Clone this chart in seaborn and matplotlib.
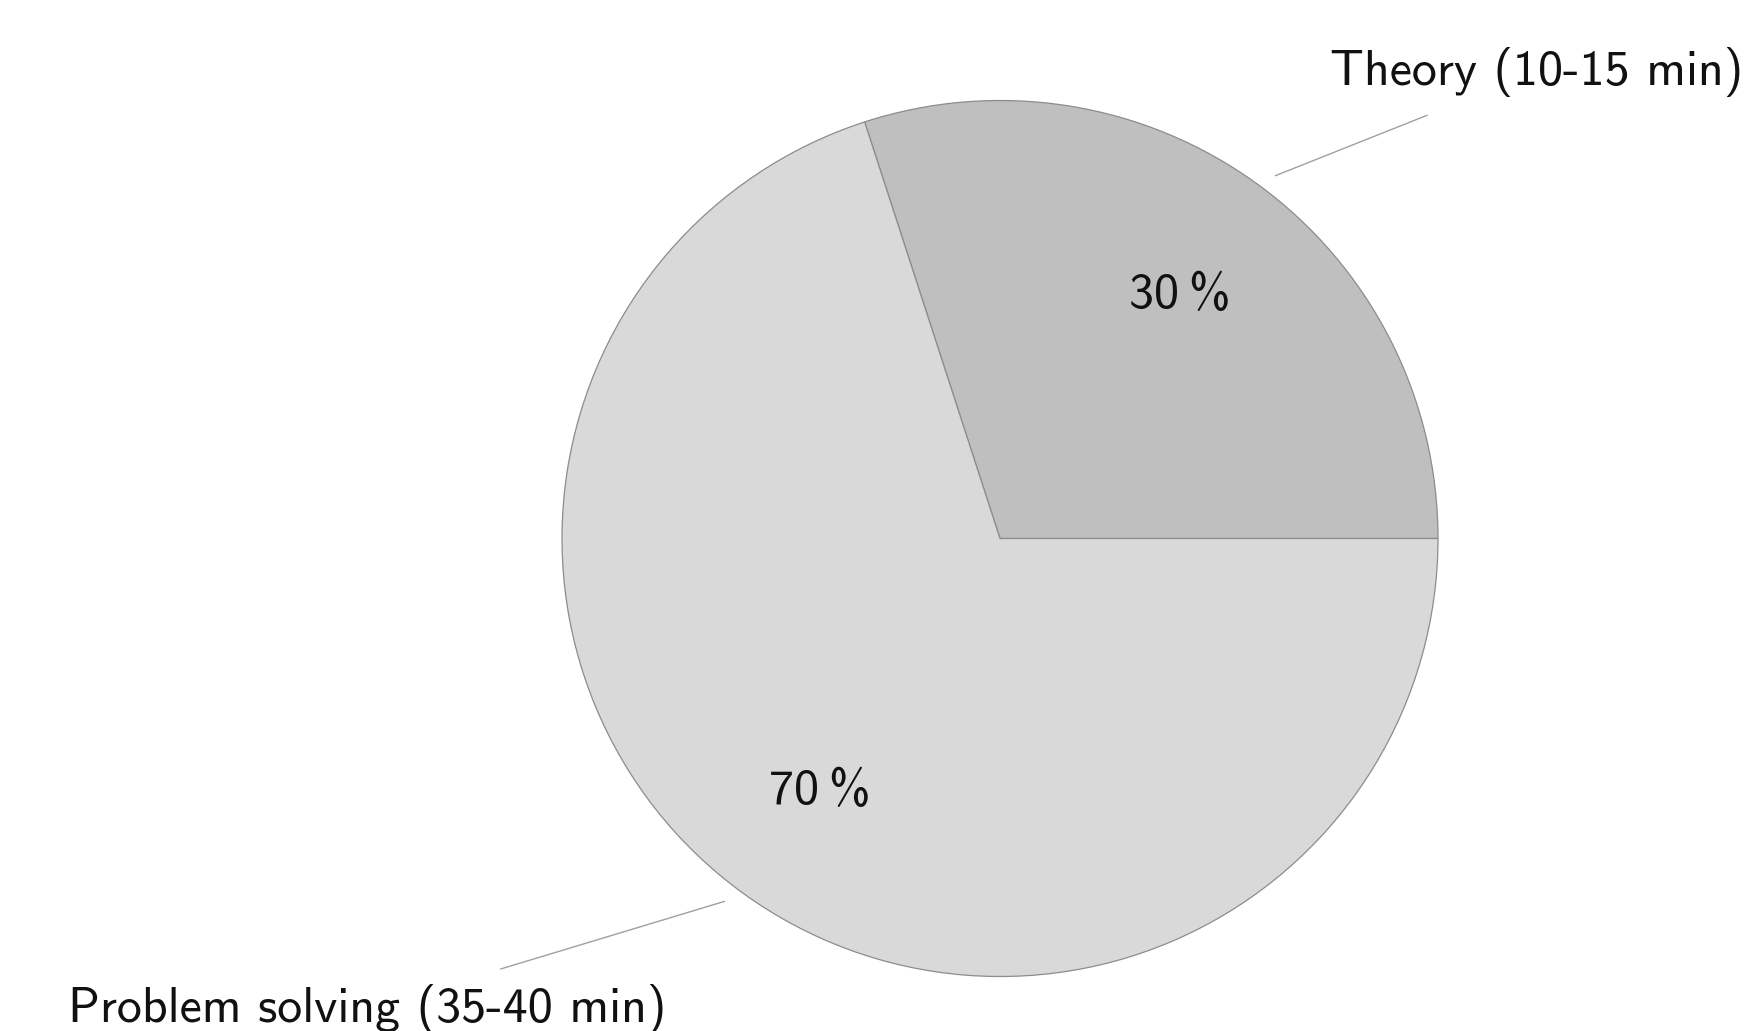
import numpy as np
import seaborn as sns
import matplotlib.pyplot as plt

# time split of a session
labels = ['Theory (10-15 min)', 'Problem solving (35-40 min)']
shares = [30, 70]
colors = ['#bfbfbf', '#d9d9d9']

sns.set_theme(style='white')
plt.rcParams['font.family'] = ['cmss10', 'DejaVu Sans']

fig = plt.figure(figsize=(17.52, 10.31), dpi=100)
ax = fig.add_axes([0, 0, 1, 1])

wedges, texts, autotexts = ax.pie(
    shares, colors=colors, startangle=0, counterclock=True,
    autopct=lambda p: f'{p:.0f}\u2009%', pctdistance=0.7,
    wedgeprops=dict(edgecolor='#8c8c8c', linewidth=0.9),
    textprops=dict(fontsize=36, color='#111111'))

# nudge the percentages down a little
for t in autotexts:
    x, y = t.get_position()
    t.set_position((x, y - 0.012))

# label placement (text centre, in radius units)
text_pos = [(1.226, 1.066), (-1.445, -1.075)]
for w, lab, pos in zip(wedges, labels, text_pos):
    mid = np.deg2rad((w.theta1 + w.theta2) / 2 - 1.2)
    xy = (1.04 * np.cos(mid), 1.04 * np.sin(mid))
    ax.annotate(lab, xy=xy, xytext=pos, ha='center', va='center',
                fontsize=36, color='#111111',
                arrowprops=dict(arrowstyle='-', color='#a0a0a0', lw=1.0,
                                shrinkA=30, shrinkB=0))

ax.set_xlim(-1000 / 438, 752 / 438)
ax.set_ylim(-(1031 - 538.5) / 438, 538.5 / 438)
ax.set_aspect('auto')
ax.axis('off')

fig.savefig('out.png', dpi=100)
